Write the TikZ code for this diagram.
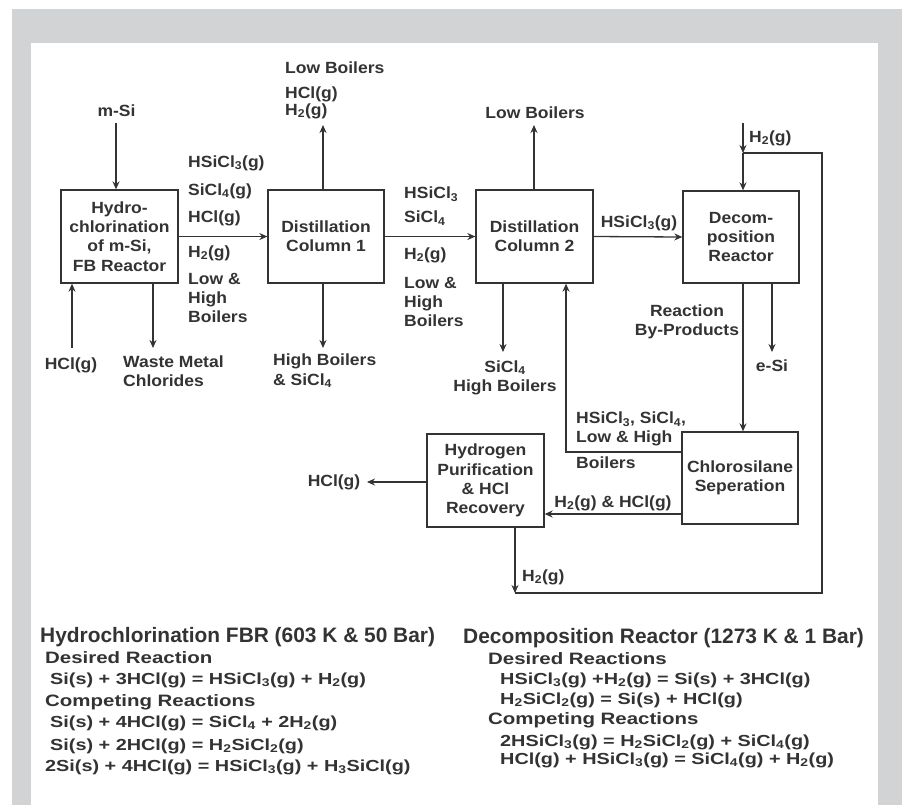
\documentclass[tikz,border=0pt]{standalone}
\usepackage{fontspec}
\setmainfont{Liberation Sans}
\newfontfamily\widefont[FakeStretch=1.24]{Liberation Sans}
\newfontfamily\labfamily[FakeStretch=1.08]{Liberation Sans}
\usetikzlibrary{arrows.meta}
\definecolor{framegray}{HTML}{D2D3D5}
\definecolor{ink}{HTML}{333333}
\newcommand{\sbs}[1]{\textsubscript{#1}}
\newcommand{\labfont}{\labfamily\fontsize{16.2}{19.3}\selectfont\bfseries}
\newcommand{\titfont}{\fontsize{20.9}{24}\selectfont\bfseries}
\newcommand{\subfont}{\widefont\fontsize{16.5}{20}\selectfont\bfseries}
\newcommand{\rxfont}{\widefont\fontsize{16}{20}\selectfont\bfseries}
\begin{document}
\begin{tikzpicture}[x=1pt,y=-1pt,
  box/.style={draw=ink, line width=1.3pt, minimum width=117pt, minimum height=93pt, align=center, inner sep=0pt, font=\labfont, text=ink},
  lab/.style={font=\labfont, text=ink, inner sep=0pt},
  labl/.style={lab, anchor=west, align=left},
  labc/.style={lab, align=center},
  tit/.style={font=\titfont, text=ink, inner sep=0pt, anchor=west},
  sub/.style={font=\subfont, text=ink, inner sep=0pt, anchor=west},
  rx/.style={font=\rxfont, text=ink, inner sep=0pt, anchor=west},
  flow/.style={draw=ink, line width=1.3pt, -{Stealth[length=8pt,width=7pt]}},
  plain/.style={draw=ink, line width=1.3pt},
  ]
\fill[white] (0,0) rectangle (902,805);
\fill[framegray] (12,9) rectangle (902,805);
\fill[white] (31,43) rectangle (878,807);
\useasboundingbox (0,0) rectangle (902,805);

% boxes
\node[box] (b1) at (119.5,236.5) {Hydro-\\chlorination\\of m-Si,\\FB Reactor};
\node[box, minimum width=116pt] (c1) at (326,236.5) {Distillation\\Column 1};
\node[box] (c2) at (534.5,236.5) {Distillation\\Column 2};
\node[box, minimum width=116pt, minimum height=92pt] (dr) at (741,237) {Decom-\\position\\Reactor};
\node[box, minimum width=116pt, minimum height=92pt] (cs) at (740,478) {Chlorosilane\\Seperation};
\node[box] (hp) at (485.5,480.5) {Hydrogen\\Purification\\\& HCl\\Recovery};

% coordinates
\coordinate (msi) at (116,123);
\coordinate (hcl) at (72,348);
\coordinate (waste) at (153,348);
\coordinate (c1up) at (323,125);
\coordinate (c1dn) at (323,348);
\coordinate (c2up) at (534,125);
\coordinate (c2dn) at (503,352);
\coordinate (rec) at (566,452);
\coordinate (esi) at (772,352);
\coordinate (hh) at (600,514);
\coordinate (hclout) at (367,482);
\coordinate (h2bot) at (515,593);
\coordinate (loopR) at (822,593);
\coordinate (loopT) at (822,153);
\coordinate (h2j) at (743,153);
\coordinate (h2in) at (743,123);

% connectors
\draw[flow] (msi) -- (msi |- b1.north);
\draw[flow] (hcl) -- (hcl |- b1.south);
\draw[flow] (waste |- b1.south) -- (waste);
\draw[flow] (b1.east) -- (c1.west);
\draw[flow] (c1up |- c1.north) -- (c1up);
\draw[flow] (c1dn |- c1.south) -- (c1dn);
\draw[flow] (c1.east) -- (c2.west);
\draw[flow] (c2up |- c2.north) -- (c2up);
\draw[flow] (c2dn |- c2.south) -- (c2dn);
\draw[flow] (c2.east) -- (dr.west);
\draw[flow] (h2in) -- (h2j);
\draw[flow] (h2j) -- (h2j |- dr.north);
\draw[flow] (h2j |- dr.south) -- (h2j |- cs.north);
\draw[flow] (esi |- dr.south) -- (esi);
\draw[flow] (rec -| cs.west) -- (rec) -- (rec |- c2.south);
\draw[flow] (hh -| cs.west) -- (hh -| hp.east);
\draw[flow] (hclout -| hp.west) -- (hclout);
\draw[flow] (h2bot |- hp.south) -- (h2bot);
\draw[plain] (h2bot) -- (loopR) -- (loopT) -- (h2j);

% labels
\node[labc] (lmsi) at (116.5,111) {m-Si};
\node[labc] (lhcl) at (71,365) {HCl(g)};
\node[labl] (lwaste) at (123,371) {Waste Metal\\Chlorides};
\node[labl] (la1) at (188,163) {HSiCl\sbs{3}(g)};
\node[labl] (la2) at (188,191) {SiCl\sbs{4}(g)};
\node[labl] (la3) at (188,218) {HCl(g)};
\node[labl] (la4) at (188,253) {H\sbs{2}(g)};
\node[labl] (la5) at (188,298) {Low \&\\High\\Boilers};
\node[labl] (lb1) at (285,68) {Low Boilers};
\node[labl] (lb2) at (285,94) {HCl(g)};
\node[labl] (lb3) at (285,111) {H\sbs{2}(g)};
\node[labl] (lb4) at (273,371) {High Boilers\\\& SiCl\sbs{4}};
\node[labl] (lc1) at (404,194) {HSiCl\sbs{3}};
\node[labl] (lc2) at (404,218) {SiCl\sbs{4}};
\node[labl] (lc3) at (404,255) {H\sbs{2}(g)};
\node[labl] (lc4) at (404,302) {Low \&\\High\\Boilers};
\node[labc] (ld1) at (535,113) {Low Boilers};
\node[labc] (ld2) at (505,377.5) {SiCl\sbs{4}\\High Boilers};
\node[labc] (le1) at (639,223) {HSiCl\sbs{3}(g)};
\node[labl] (le2) at (749,138) {H\sbs{2}(g)};
\node[labc] (le3) at (687,321.5) {Reaction\\By-Products};
\node[labc] (le4) at (772,366) {e-Si};
\node[labl] (lf1) at (576,429) {HSiCl\sbs{3}, SiCl\sbs{4},\\Low \& High};
\node[labl] (lf2) at (576,463) {Boilers};
\node[labc] (lf3) at (613,503) {H\sbs{2}(g) \& HCl(g)};
\node[labc] (lf4) at (334,482) {HCl(g)};
\node[labl] (lf5) at (522,577) {H\sbs{2}(g)};

% reaction text, left
\node[tit] (t1) at (40,637) {Hydrochlorination FBR (603 K \& 50 Bar)};
\node[sub] (t2) at (45,658) {Desired Reaction};
\node[rx] (t3) at (50,680) {Si(s) + 3HCl(g) = HSiCl\sbs{3}(g) + H\sbs{2}(g)};
\node[sub] (t4) at (45,702) {Competing Reactions};
\node[rx] (t5) at (50,723) {Si(s) + 4HCl(g) = SiCl\sbs{4} + 2H\sbs{2}(g)};
\node[rx] (t6) at (50,746) {Si(s) + 2HCl(g) = H\sbs{2}SiCl\sbs{2}(g)};
\node[rx] (t7) at (45,767) {2Si(s) + 4HCl(g) = HSiCl\sbs{3}(g) + H\sbs{3}SiCl(g)};

% reaction text, right
\node[tit] (r1) at (463,638) {Decomposition Reactor (1273 K \& 1 Bar)};
\node[sub] (r2) at (488,659) {Desired Reactions};
\node[rx] (r3) at (500,680) {HSiCl\sbs{3}(g) +H\sbs{2}(g) = Si(s) + 3HCl(g)};
\node[rx] (r4) at (500,700) {H\sbs{2}SiCl\sbs{2}(g) = Si(s) + HCl(g)};
\node[sub] (r5) at (488,720) {Competing Reactions};
\node[rx] (r6) at (500,742) {2HSiCl\sbs{3}(g) = H\sbs{2}SiCl\sbs{2}(g) + SiCl\sbs{4}(g)};
\node[rx] (r7) at (500,760) {HCl(g) + HSiCl\sbs{3}(g) = SiCl\sbs{4}(g) + H\sbs{2}(g)};
\end{tikzpicture}
\end{document}
